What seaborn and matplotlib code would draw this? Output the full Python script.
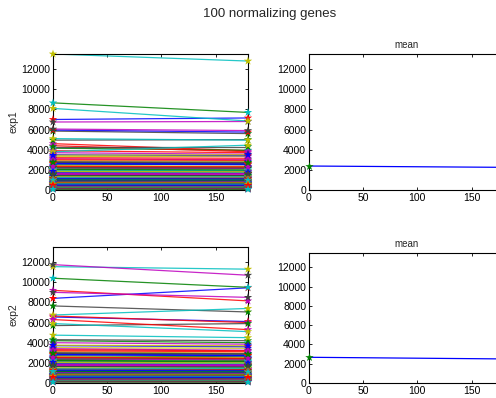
import matplotlib
matplotlib.use("Agg")
import matplotlib.pyplot as plt
import pandas as pd
import seaborn as sns

# ---------------- data ----------------
times = [0, 180]

exp1_t0 = [7000, 8650, 4600, 13500, 6750, 3300, 5850, 5950, 4150, 4400,
           8100, 6050, 2900, 4950, 2700, 2500, 3900, 5100, 3700, 2300,
           4300, 3500, 2100, 1900, 3800, 3100, 1750, 1600, 2600, 1500,
           3200, 1400, 2200, 1300, 2800, 1200, 2000, 1100, 1800, 1000,
           2400, 900, 1700, 850, 3000, 800, 1550, 750, 2250, 700,
           1450, 650, 1950, 620, 1350, 580, 2650, 550, 1250, 520,
           1650, 480, 1150, 450, 2050, 420, 1050, 400, 1850, 380,
           950, 350, 2350, 320, 870, 300, 1480, 280, 780, 260,
           1250, 240, 720, 220, 1100, 200, 680, 180, 1550, 160,
           640, 140, 1000, 120, 600, 100, 3450, 2750, 500, 80]
exp1_t180 = [7150, 7700, 3900, 12800, 6800, 3350, 5600, 5750, 3950, 3800,
             6850, 5900, 2850, 5000, 2600, 2550, 3700, 4950, 3550, 2250,
             4300, 3400, 2150, 1850, 4450, 3000, 1700, 1650, 2500, 1450,
             3150, 1350, 2150, 1250, 2750, 1150, 1950, 1100, 1750, 950,
             2350, 880, 1650, 820, 2950, 780, 1500, 730, 2200, 690,
             1400, 630, 1900, 600, 1300, 560, 2600, 530, 1200, 500,
             1600, 470, 1100, 440, 2000, 410, 1000, 390, 1800, 370,
             920, 340, 2300, 310, 850, 290, 1430, 270, 760, 250,
             1300, 230, 700, 210, 1080, 190, 660, 170, 1600, 150,
             620, 130, 980, 110, 580, 95, 3500, 2700, 480, 75]
exp2_t0 = [8400, 10400, 9200, 11550, 11750, 3500, 7650, 6550, 4200, 6650,
           6750, 9000, 3100, 5700, 2900, 2700, 6300, 5900, 4000, 2450,
           4300, 3700, 2350, 2150, 4750, 3400, 1950, 1800, 2800, 1700,
           3300, 1600, 2400, 1450, 3000, 1350, 2200, 1250, 2000, 1150,
           2600, 1050, 1900, 950, 3200, 900, 1750, 850, 2500, 800,
           1650, 750, 2100, 700, 1500, 660, 2850, 620, 1400, 580,
           1850, 540, 1300, 500, 2250, 470, 1200, 440, 2050, 410,
           1100, 380, 2550, 350, 1000, 320, 1650, 300, 880, 280,
           1400, 260, 800, 240, 1250, 220, 760, 200, 1750, 180,
           700, 160, 1150, 140, 680, 120, 3750, 2950, 580, 100]
exp2_t180 = [9450, 9500, 8150, 11300, 10700, 3450, 7050, 6100, 4000, 6000,
             7400, 8500, 2950, 5900, 2750, 2600, 5300, 5100, 3850, 2400,
             4200, 3600, 2250, 2050, 4500, 3250, 1900, 1750, 2700, 1650,
             3200, 1550, 2300, 1400, 2900, 1300, 2100, 1200, 1950, 1100,
             2500, 1000, 1800, 900, 3100, 870, 1700, 820, 2400, 780,
             1600, 720, 2000, 680, 1450, 640, 2750, 600, 1350, 560,
             1800, 520, 1250, 490, 2150, 460, 1150, 430, 2000, 400,
             1050, 370, 2450, 340, 960, 310, 1600, 290, 850, 270,
             1450, 250, 780, 230, 1200, 210, 740, 190, 1700, 170,
             680, 150, 1100, 130, 660, 110, 3700, 2850, 560, 90]

mean_exp1 = [2380, 2250]
mean_exp2 = [2670, 2500]

row_labels = ["exp1", "exp2"]
mean_title = "mean"
suptitle = "100 normalizing genes"
xticks = [0, 50, 100, 150]
yticks = [0, 2000, 4000, 6000, 8000, 10000, 12000]

# ---------------- style ----------------
sns.set_style("white")
plt.rcParams["font.family"] = ["Liberation Sans", "DejaVu Sans"]

color_order = [(0, 0, 1), (0, 0.5, 0), (1, 0, 0), (0, 0.75, 0.75),
               (0.75, 0, 0.75), (0.75, 0.75, 0), (0.25, 0.25, 0.25)]
n = len(exp1_t0)
genes = [f"g{i:03d}" for i in range(n)]
line_pal = {g: color_order[i % 7] for i, g in enumerate(genes)}
mark_pal = {g: color_order[(i + n) % 7] for i, g in enumerate(genes)}


def long_frame(t0, t1):
    return pd.DataFrame({
        "gene": genes + genes,
        "time": [times[0]] * n + [times[1]] * n,
        "value": list(t0) + list(t1),
    })


def style_axes(ax):
    ax.set_xlim(0, 180)
    ax.set_ylim(0, 13500)
    ax.set_xticks(xticks)
    ax.set_yticks(yticks)
    ax.tick_params(direction="in", length=2.5, width=0.6, labelsize=7.5,
                   top=True, right=True, bottom=True, left=True, pad=2,
                   colors="black")
    for s in ax.spines.values():
        s.set_visible(True)
        s.set_color("black")
        s.set_linewidth(0.8)
    ax.set_xlabel("")
    ax.set_ylabel("")


W, H = 496, 398
fig = plt.figure(figsize=(W / 100, H / 100), dpi=100)
fig.patch.set_facecolor("white")


def px_axes(x0, y0, x1, y1):
    return fig.add_axes([x0 / W, 1 - y1 / H, (x1 - x0) / W, (y1 - y0) / H])


ax_tl = px_axes(53, 54, 248, 190)
ax_tr = px_axes(309, 54, 504, 190)
ax_bl = px_axes(53, 247, 248, 383)
ax_br = px_axes(309, 253, 504, 383)

for ax, (t0, t1), lab in [(ax_tl, (exp1_t0, exp1_t180), row_labels[0]),
                          (ax_bl, (exp2_t0, exp2_t180), row_labels[1])]:
    df = long_frame(t0, t1)
    sns.lineplot(data=df, x="time", y="value", hue="gene", hue_order=genes,
                 palette=line_pal, legend=False, ax=ax, linewidth=0.9,
                 alpha=0.85, estimator=None)
    sns.scatterplot(data=df, x="time", y="value", hue="gene", hue_order=genes,
                    palette=mark_pal, legend=False, ax=ax, marker="*", s=40,
                    linewidth=0, clip_on=False, zorder=4)
    style_axes(ax)
    ax.set_ylabel(lab, fontsize=7.5, labelpad=2)

for ax, m in [(ax_tr, mean_exp1), (ax_br, mean_exp2)]:
    dm = pd.DataFrame({"time": times, "value": m})
    sns.lineplot(data=dm, x="time", y="value", color=(0, 0, 1), ax=ax,
                 linewidth=0.9, estimator=None)
    sns.scatterplot(data=dm, x="time", y="value", color=(0, 0.5, 0), ax=ax,
                    marker="*", s=40, linewidth=0, clip_on=False, zorder=4)
    style_axes(ax)
    ax.set_title(mean_title, fontsize=7, pad=4)

fig.text(270 / W, 1 - 14 / H, suptitle, ha="center", va="center", fontsize=9.5)

fig.savefig("out.png", dpi=100, facecolor="white")
